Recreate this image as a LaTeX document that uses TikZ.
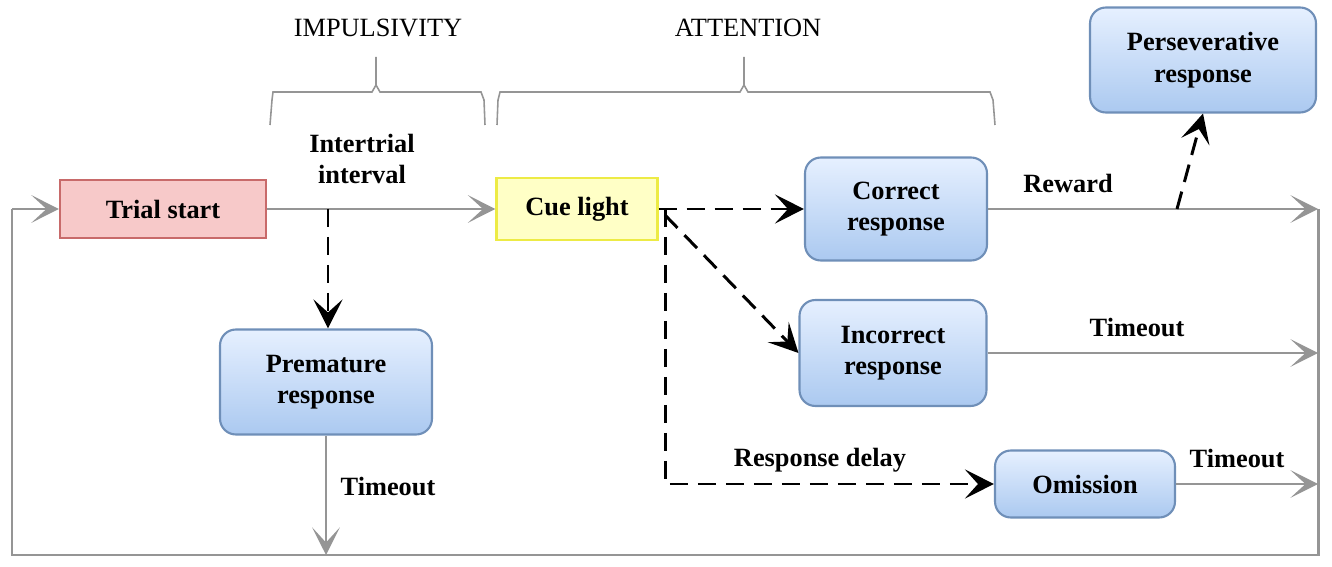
\documentclass[tikz,border=0pt]{standalone}
\usepackage{fontspec}
\setmainfont{Liberation Serif}
\usetikzlibrary{arrows.meta,positioning}
\definecolor{flowgray}{HTML}{959595}
\definecolor{boxedge}{HTML}{6F8FB8}
\definecolor{boxtop}{HTML}{E6F0FF}
\definecolor{boxbottom}{HTML}{ABC9F0}
\definecolor{startedge}{HTML}{C86A6A}
\definecolor{startfill}{HTML}{F7C9C9}
\definecolor{cueedge}{HTML}{EDEB45}
\definecolor{cuefill}{HTML}{FFFFC6}
\newcommand{\diagfont}{\fontsize{15}{18}\selectfont}
\tikzset{statebox/.style={draw=boxedge,line width=1.2pt,rounded corners=9pt,%
    top color=boxtop,bottom color=boxbottom,font=\diagfont\bfseries,align=center,%
    minimum width=3.64cm,minimum height=2.06cm,inner sep=2pt}}
\tikzset{flowline/.style={draw=flowgray,line width=1.7pt,%
    -{Stealth[length=0.55cm,width=0.55cm,inset=0.3cm,flowgray]}}}
\tikzset{cueline/.style={draw=black,line width=1.7pt,dash pattern=on 0.36cm off 0.2cm,%
    -{Stealth[length=0.58cm,width=0.58cm,inset=0.26cm,black]}}}
\tikzset{bracket/.style={draw=flowgray,line width=0.9pt}}
\tikzset{flowlabel/.style={font=\diagfont\bfseries,align=center,inner sep=1pt}}

\begin{document}
\begin{tikzpicture}[x=0.02cm,y=-0.02cm,font=\diagfont]

	  \useasboundingbox (0,0) rectangle (1332,567);

	  % boxes
	  \node [draw=startedge,line width=1.2pt,fill=startfill,font=\diagfont\bfseries,%
	    minimum width=4.12cm,minimum height=1.16cm] (start) at (163,209) {Trial start};
	  \node [draw=cueedge,line width=1.2pt,fill=cuefill,font=\diagfont\bfseries,%
	    minimum width=3.22cm,minimum height=1.24cm] (cue) at (577,209) {Cue light};
	  \node [statebox] (correct) at (896,209) {Correct\\response};
	  \node [statebox,minimum width=3.74cm,minimum height=2.12cm] (incorrect) at (893,353) {Incorrect\\response};
	  \node [statebox,minimum width=3.6cm,minimum height=1.34cm] (omission) at (1085,484) {Omission};
	  \node [statebox,minimum width=4.24cm,minimum height=2.1cm] (premature) at (326,382) {Premature\\response};
	  \node [statebox,minimum width=4.52cm,minimum height=2.1cm] (persev) at (1203,60) {Perseverative\\response};

	  % loop corners and ends
	  \coordinate (loopL) at (12,209);
	  \coordinate (loopLB) at (12,555);
	  \coordinate (loopRB) at (1318,555);
	  \coordinate (endC) at (1318,209);
	  \coordinate (endI) at (1318,353);
	  \coordinate (endO) at (1318,484);
	  \coordinate (endP) at (326,555);
	  \coordinate (iti) at (328,209);
	  \coordinate (split) at (665,209);
	  \coordinate (reward) at (1177,209);

	  % gray flow
	  \draw [flowline,-] (endC) -- (loopRB) -- (loopLB) -- (loopL);
	  \draw [flowline] (loopL) -- (start);
	  \draw [flowline] (start) -- (cue);
	  \draw [flowline] (correct) -- (endC);
	  \draw [flowline] (incorrect) -- (endI);
	  \draw [flowline] (omission) -- (endO);
	  \draw [flowline] (premature) -- (endP);

	  % dashed branches
	  \draw [cueline] (iti) -- (iti |- premature.north);
	  \draw [cueline] (cue) -- (correct);
	  \draw [cueline] (665,215) -- (incorrect.west);
	  \draw [cueline] (split) |- (omission);
	  \draw [cueline] (reward) -- (persev.south);

	  % labels
	  \node [flowlabel] (itilabel) at (362,159) {Intertrial\\interval};
	  \node [flowlabel] (rewardlabel) at (1068,183) {Reward};
	  \node [flowlabel] (timeoutI) at (1137,328) {Timeout};
	  \node [flowlabel] (timeoutO) at (1237,459) {Timeout};
	  \node [flowlabel] (timeoutP) at (388,487) {Timeout};
	  \node [flowlabel] (delaylabel) at (820,460) {Response delay};

	  % braces
	  \node (impuls) at (378,28) {IMPULSIVITY};
	  \node (attn) at (748,28) {ATTENTION};
	  \draw [bracket] (270,125) -- (272,100) -- (273,92) -- (372,92) -- (376,85) -- (376,57);
	  \draw [bracket] (376,85) -- (380,92) -- (481,92) -- (484,100) -- (485,125);
	  \draw [bracket] (497,125) -- (498,100) -- (500,92) -- (740,92) -- (744,85) -- (744,57);
	  \draw [bracket] (744,85) -- (748,92) -- (990,92) -- (993,100) -- (995,125);

\end{tikzpicture}
\end{document}
